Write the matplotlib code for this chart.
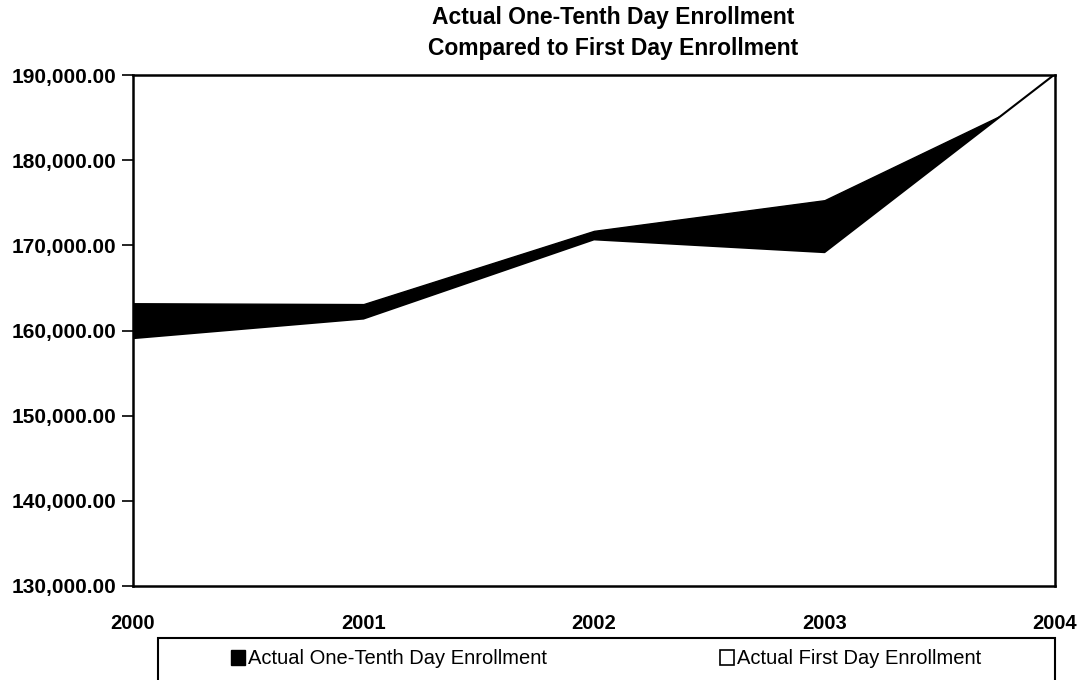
import matplotlib
matplotlib.use("Agg")
import matplotlib.pyplot as plt
from matplotlib.patches import Patch, Rectangle
from matplotlib.ticker import FuncFormatter

plt.rcParams['font.family'] = ['Liberation Sans', 'DejaVu Sans']

# data
years = [2000, 2001, 2002, 2003, 2004]
one_tenth = [163200, 163100, 171700, 175300, 188300]
first_day = [159100, 161400, 170700, 169200, 190100]
y_ticks = [130000, 140000, 150000, 160000, 170000, 180000, 190000]
series_names = ["Actual One-Tenth Day Enrollment", "Actual First Day Enrollment"]

fig = plt.figure(figsize=(10.8, 6.8), dpi=100)
ax = fig.add_axes([133 / 1080, 1 - 586 / 680, (1055 - 133) / 1080, (586 - 75) / 680])

ymin, ymax = y_ticks[0], y_ticks[-1]
# excel style overlapping areas: one-tenth first, first day drawn on top in white
ax.fill_between(years, ymin, one_tenth, facecolor='black', edgecolor='black', linewidth=1)
ax.fill_between(years, ymin, first_day, facecolor='white', edgecolor='none')
ax.plot(years, first_day, color='black', linewidth=1.5)

ax.set_xlim(years[0], years[-1])
ax.set_ylim(ymin, ymax)
ax.set_xticks(years)
ax.set_xticklabels([str(y) for y in years])
ax.set_yticks(y_ticks)
ax.yaxis.set_major_formatter(FuncFormatter(lambda v, p: f"{v:,.2f}"))
ax.tick_params(axis='y', direction='out', length=8, width=1.2, pad=4, labelsize=15)
ax.tick_params(axis='x', length=0, pad=20, labelsize=14.5)
for lab in ax.get_xticklabels() + ax.get_yticklabels():
    lab.set_fontweight('bold')

for s in ax.spines.values():
    s.set_linewidth(1.8)

fig.text(0.568, 1 - 6 / 680, "Actual One-Tenth Day Enrollment\nCompared to First Day Enrollment",
         ha='center', va='top', fontsize=16.5, fontweight='bold', linespacing=1.45)

# legend box
fig.patches.append(Rectangle((158 / 1080, -0.02), (1055 - 158) / 1080, 0.02 + 1 - 638 / 680,
                             transform=fig.transFigure, facecolor='none', edgecolor='black', linewidth=1.5))
h1 = Patch(facecolor='black', edgecolor='black')
h2 = Patch(facecolor='white', edgecolor='black', linewidth=1.2)
for h, name, x in [(h1, series_names[0], 231), (h2, series_names[1], 720)]:
    fig.legend([h], [name], loc='center left', bbox_to_anchor=(x / 1080, 1 - 659 / 680),
               frameon=False, fontsize=14.5, handlelength=0.7, handleheight=0.7,
               handletextpad=0.15, borderpad=0, borderaxespad=0)

fig.savefig("out.png", dpi=100)
